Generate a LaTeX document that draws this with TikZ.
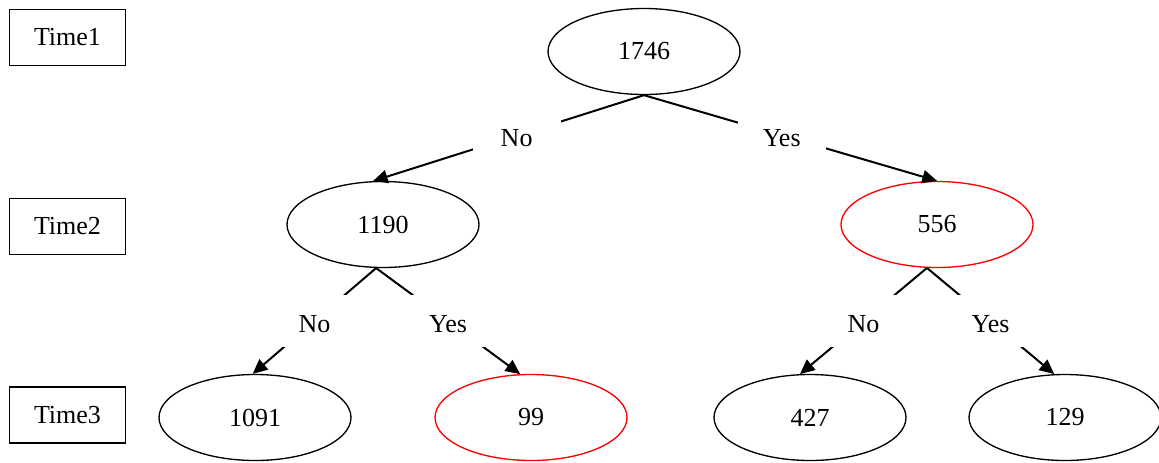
\documentclass[tikz,border=0pt]{standalone}
\usepackage{fontspec}
\setmainfont{Liberation Serif}
\usetikzlibrary{shapes.geometric,arrows.meta}

\tikzset{
  every node/.style={font=\fontsize{19.5}{22}\selectfont},
  timebox/.style={draw, line width=1.1pt, minimum width=87pt, minimum height=42pt},
  count/.style={draw, ellipse, line width=1pt, minimum width=144pt, minimum height=64.5pt},
  flagged/.style={count, draw=red, text=black},
  edge/.style={line width=1.5pt, -{Triangle[length=11pt,width=10pt]}},
  answer/.style={fill=white, inner sep=0pt, text height=17pt, text depth=0pt,
    minimum width=66pt, minimum height=39pt},
}

\begin{document}
\begin{tikzpicture}[x=0.75pt, y=-0.75pt]
    \useasboundingbox (0,0) rectangle (1159,462);

    \node[timebox] (t1) at (67.5,37.5) {Time1};
    \node[timebox] (t2) at (67.5,226.5) {Time2};
    \node[timebox] (t3) at (67.5,415) {Time3};

    \node[count] (n1746) at (644,51.5) {1746};
    \node[count] (n1190) at (383,224.5) {1190};
    \node[flagged] (n556) at (937,224.5) {556};
    \node[count] (n1091) at (255,417.5) {1091};
    \node[flagged] (n99) at (531,417.5) {99};
    \node[count] (n427) at (810,417.5) {427};
    \node[count] (n129) at (1065,417.5) {129};

    \draw[edge] (n1746.south) -- node[answer, pos=.47] {No} (n1190.103);
    \draw[edge] (n1746.south) -- node[answer, pos=.47] {Yes} (n556.north);
    \draw[edge] (n1190.261) -- node[answer, pos=.5] {No} (n1091.93);
    \draw[edge] (n1190.261) -- node[answer, pos=.5] {Yes} (n99.104);
    \draw[edge] (n556.257) -- node[answer, pos=.5] {No} (n427.103);
    \draw[edge] (n556.257) -- node[answer, pos=.5] {Yes} (n129.104);
\end{tikzpicture}
\end{document}
